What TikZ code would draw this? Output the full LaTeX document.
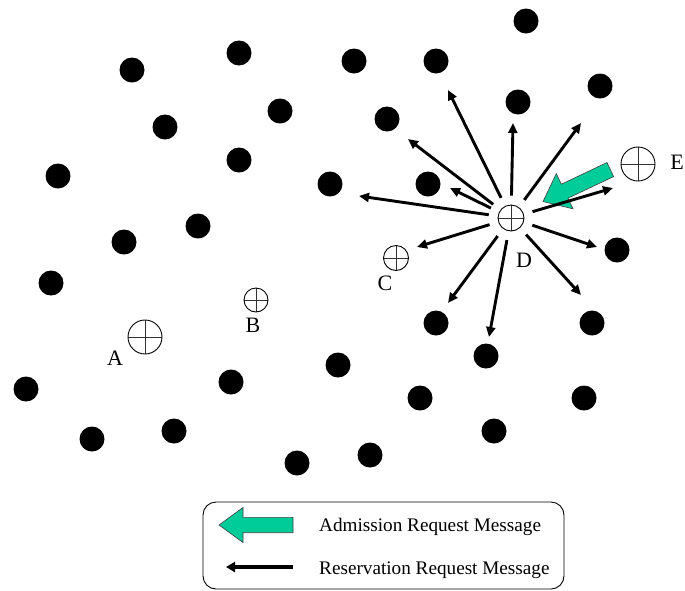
\documentclass[tikz,border=0pt]{standalone}
\usepackage{fontspec}
\setmainfont{Liberation Serif}
\usetikzlibrary{arrows.meta}
\definecolor{admgreen}{RGB}{0,204,153}
\begin{document}
\begin{tikzpicture}[x=1pt,y=-1pt,
  dot/.style={circle,fill=black,inner sep=0pt,minimum size=25pt},
  station/.style={circle,draw=black,line width=0.9pt,inner sep=0pt,minimum size=#1,
    path picture={\draw[line width=0.8pt,black!80]
      (path picture bounding box.north) -- (path picture bounding box.south)
      (path picture bounding box.west) -- (path picture bounding box.east);}},
  lbl/.style={font=\fontsize{22}{22}\selectfont,inner sep=0pt},
  legtext/.style={font=\fontsize{19.2}{19.2}\selectfont,inner sep=0pt,anchor=base west},
  resv/.style={-{Triangle[length=10pt,width=9pt]},line width=2.9pt,shorten <=9pt},
  admarrow/.style={fill=admgreen,draw=black!75,line width=0.6pt,line join=miter},
  legbox/.style={draw=black,line width=0.9pt,rounded corners=13pt}
]
\useasboundingbox (0,0) rectangle (685,590);

% ordinary nodes
\foreach \x/\y [count=\i] in {526/21,132/70,239/53,354/61,436/61,600/86,518/102,
    280/111,165/127,387/119,239/160,58/176,330/184,428/184,198/226,124/242,
    617/250,51/283,436/323,592/323,486/356,338/365,231/382,26/389,420/398,
    584/398,174/431,92/439,494/431,370/455,297/463}
  \node[dot] (n\i) at (\x,\y) {};

% stations
\node[station=34pt] (A) at (145,337) {};
\node[station=24pt] (B) at (256,300) {};
\node[station=25pt] (C) at (396,258) {};
\node[station=26pt] (D) at (511,218) {};
\node[station=34pt] (E) at (638,164) {};

\node[lbl] (la) at (115,358) {A};
\node[lbl] (lb) at (253,325) {B};
\node[lbl] (lc) at (385,283) {C};
\node[lbl] (ld) at (524,260) {D};
\node[lbl] (le) at (677,162) {E};

% admission request from E towards D (drawn first, the reservation arrows lie on top)
\begin{scope}[shift={(543,201.5)},rotate=25.4]
  \draw[admarrow] (0,0) -- (24,-19.5) -- (24,-7.75) -- (74.5,-7.75)
    -- (74.5,7.75) -- (24,7.75) -- (24,19.5) -- cycle;
\end{scope}

% reservation requests sent out by D
\foreach \x/\y [count=\i] in {448/90,513/123,581/123,408/139,450/188,359/196,
    417/247,448/303,489/337,581/295,597/247,613/188}
{
  \coordinate (r\i) at (\x,\y);
  \draw[resv] (D) -- (r\i);
}

% legend
\draw[legbox] (203,502) rectangle (564,589);
\begin{scope}[shift={(219,525)}]
  \draw[admarrow] (0,0) -- (24,-17.5) -- (24,-7.7) -- (74,-7.7)
    -- (74,7.7) -- (24,7.7) -- (24,17.5) -- cycle;
\end{scope}
\coordinate (ls) at (293,567);
\coordinate (le2) at (226,567);
\draw[-{Triangle[length=9pt,width=10pt]},line width=4pt] (ls) -- (le2);
\node[legtext] (t1) at (319,531) {Admission Request Message};
\node[legtext] (t2) at (319,574) {Reservation Request Message};
\end{tikzpicture}
\end{document}
